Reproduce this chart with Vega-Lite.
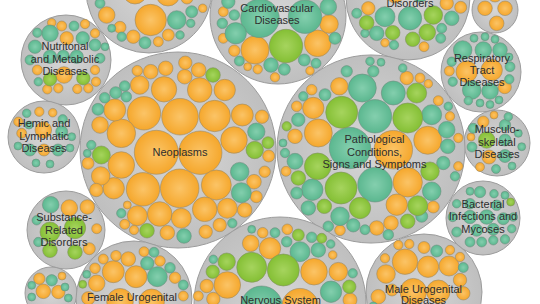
{
"$schema": "https://vega.github.io/schema/vega-lite/v6.json",
"width": 540, "height": 304, "autosize": {"type": "none"}, "padding": 0,
"background": "white",
"config": {"view": {"stroke": null}},
"datasets": {
"parents": [
{"x":149,"y":-10,"r":63},{"x":278,"y":16,"r":68},{"x":408,"y":-2,"r":62},{"x":495,"y":10,"r":23},
{"x":481,"y":72,"r":40},{"x":497,"y":143,"r":33},{"x":483,"y":218,"r":37},{"x":424,"y":292,"r":58},
{"x":371,"y":149,"r":94},{"x":178,"y":150,"r":98},{"x":66,"y":60,"r":45},{"x":44,"y":137,"r":36},
{"x":66,"y":230,"r":39},{"x":51,"y":293,"r":26},{"x":134,"y":299,"r":58},{"x":280,"y":303,"r":86}
],
"kids": [
{"x":135,"y":-8,"r":12,"c":"o"},{"x":168,"y":-6,"r":12,"c":"o"},{"x":150.7,"y":20,"r":15.7,"c":"o"},{"x":106.7,"y":15,"r":8.3,"c":"o"},{"x":120,"y":27.3,"r":6,"c":"o"},{"x":176.7,"y":20,"r":9.3,"c":"t"},{"x":191.7,"y":11.7,"r":6,"c":"t"},{"x":190.7,"y":23.3,"r":4.3,"c":"t"},{"x":202.7,"y":8.3,"r":4.3,"c":"o"},{"x":133.3,"y":36.7,"r":6.7,"c":"o"},{"x":168.3,"y":35,"r":6,"c":"o"},{"x":180,"y":35,"r":4.3,"c":"t"},{"x":158.3,"y":41.7,"r":5,"c":"o"},{"x":145,"y":42.7,"r":6,"c":"t"},{"x":121.7,"y":36.7,"r":4.7,"c":"t"},{"x":111.7,"y":28.3,"r":4,"c":"t"},{"x":100,"y":3.3,"r":5,"c":"t"},{"x":187,"y":-2,"r":6,"c":"o"},

{"x":260,"y":18.3,"r":19.3,"c":"t"},{"x":305,"y":16.7,"r":16.7,"c":"t"},{"x":286,"y":46,"r":16.7,"c":"g"},{"x":255,"y":50,"r":14,"c":"o"},{"x":317.7,"y":43.3,"r":13.3,"c":"o"},{"x":235.7,"y":33.3,"r":10.7,"c":"t"},{"x":329,"y":24,"r":9.3,"c":"o"},{"x":335,"y":38.3,"r":6,"c":"t"},{"x":271,"y":65,"r":7.3,"c":"t"},{"x":284.3,"y":69.3,"r":6,"c":"t"},{"x":304.3,"y":60,"r":6,"c":"t"},{"x":316,"y":63.3,"r":5,"c":"t"},{"x":310,"y":70.7,"r":4.3,"c":"o"},{"x":275,"y":77.3,"r":4.7,"c":"o"},{"x":257.7,"y":69.3,"r":4.7,"c":"o"},{"x":247.7,"y":66.7,"r":4,"c":"o"},{"x":239.3,"y":61,"r":5,"c":"t"},{"x":234.3,"y":50.7,"r":5.7,"c":"o"},{"x":223.3,"y":38.3,"r":5,"c":"o"},{"x":222.3,"y":23.3,"r":5.3,"c":"t"},{"x":223.3,"y":11.7,"r":5,"c":"o"},{"x":234.3,"y":15,"r":5.3,"c":"t"},{"x":228.3,"y":1.7,"r":6.7,"c":"t"},{"x":328.3,"y":6.7,"r":8.3,"c":"t"},

{"x":410,"y":18.3,"r":11.7,"c":"t"},{"x":433.3,"y":15,"r":9.3,"c":"g"},{"x":385,"y":16.7,"r":10,"c":"t"},{"x":366.7,"y":22.7,"r":7.3,"c":"g"},{"x":368.3,"y":8.3,"r":6.7,"c":"o"},{"x":356.7,"y":13.3,"r":5,"c":"t"},{"x":376.7,"y":33.3,"r":7.3,"c":"t"},{"x":392.7,"y":32.7,"r":7.3,"c":"g"},{"x":412.7,"y":39.3,"r":7.3,"c":"g"},{"x":427.3,"y":32.3,"r":8.3,"c":"g"},{"x":440.7,"y":38.3,"r":5,"c":"t"},{"x":441.7,"y":28.3,"r":5,"c":"t"},{"x":451.7,"y":18.3,"r":7.3,"c":"t"},{"x":460.7,"y":7.3,"r":6,"c":"o"},{"x":446.7,"y":3.3,"r":6.7,"c":"o"},{"x":424,"y":46.7,"r":5,"c":"o"},{"x":394,"y":45,"r":4.7,"c":"t"},{"x":385,"y":42.7,"r":4.3,"c":"o"},{"x":365,"y":33.3,"r":4.3,"c":"t"},{"x":420,"y":-8,"r":10,"c":"t"},{"x":395,"y":-6,"r":9,"c":"o"},

{"x":485,"y":8.3,"r":7.3,"c":"o"},{"x":505,"y":8.3,"r":7.3,"c":"o"},{"x":496.7,"y":23.3,"r":7.3,"c":"o"},{"x":495,"y":-5,"r":7,"c":"o"},

{"x":466.7,"y":71.7,"r":10.7,"c":"o"},{"x":491.7,"y":70,"r":10.7,"c":"o"},{"x":462.7,"y":50,"r":9.3,"c":"t"},{"x":483.3,"y":50,"r":8.3,"c":"t"},{"x":500,"y":50,"r":7.3,"c":"t"},{"x":471.7,"y":90,"r":9.3,"c":"t"},{"x":490,"y":91,"r":8.3,"c":"t"},{"x":504.7,"y":87,"r":6.7,"c":"o"},{"x":449.3,"y":71,"r":5,"c":"o"},{"x":451.7,"y":61.7,"r":4.7,"c":"t"},{"x":452.7,"y":81.7,"r":4.7,"c":"t"},{"x":510,"y":66.7,"r":5,"c":"t"},{"x":509.3,"y":79.3,"r":4.7,"c":"t"},{"x":474,"y":38.3,"r":4,"c":"t"},{"x":485,"y":36.7,"r":4,"c":"t"},{"x":495,"y":39.3,"r":4,"c":"t"},{"x":468.3,"y":100.7,"r":4.3,"c":"t"},{"x":480,"y":103,"r":4,"c":"t"},{"x":490,"y":104.5,"r":4,"c":"t"},{"x":499,"y":100,"r":4,"c":"t"},{"x":509,"y":57,"r":4,"c":"t"},

{"x":486.7,"y":140,"r":8.3,"c":"g"},{"x":483.3,"y":121.7,"r":5.7,"c":"o"},{"x":505,"y":125,"r":5.7,"c":"t"},{"x":508.3,"y":116.7,"r":4.3,"c":"t"},{"x":494,"y":115,"r":4,"c":"o"},{"x":473.3,"y":128.3,"r":5,"c":"t"},{"x":518.3,"y":133.3,"r":4,"c":"t"},{"x":521.7,"y":146.7,"r":4,"c":"t"},{"x":489,"y":157,"r":7,"c":"o"},{"x":505,"y":156,"r":6.5,"c":"t"},{"x":472,"y":147,"r":5,"c":"t"},{"x":480,"y":167,"r":4.5,"c":"o"},{"x":496,"y":169,"r":4.5,"c":"t"},{"x":512,"y":166,"r":4,"c":"t"},{"x":505,"y":140,"r":6,"c":"t"},{"x":471,"y":137,"r":4,"c":"o"},

{"x":480,"y":192,"r":5.7,"c":"t"},{"x":470,"y":191.3,"r":4,"c":"t"},{"x":494,"y":193.7,"r":4.3,"c":"t"},{"x":505,"y":195.3,"r":4,"c":"t"},{"x":510.7,"y":202,"r":4,"c":"g"},{"x":456.7,"y":203.7,"r":4.3,"c":"t"},{"x":452.7,"y":217,"r":4.7,"c":"t"},{"x":456.7,"y":232,"r":5,"c":"t"},{"x":470,"y":242,"r":5,"c":"t"},{"x":481.7,"y":242,"r":5,"c":"t"},{"x":493.3,"y":240.3,"r":4.7,"c":"t"},{"x":505,"y":239.3,"r":4.7,"c":"t"},{"x":511.7,"y":228.7,"r":4.3,"c":"t"},{"x":513.3,"y":217,"r":4.3,"c":"t"},{"x":470,"y":217,"r":6.7,"c":"t"},{"x":486.7,"y":217,"r":7.3,"c":"t"},{"x":503.3,"y":218.7,"r":6,"c":"t"},{"x":476.7,"y":230.3,"r":6,"c":"t"},{"x":493.3,"y":229.3,"r":6,"c":"t"},{"x":470,"y":203.7,"r":5.3,"c":"t"},{"x":496.7,"y":205.3,"r":5.3,"c":"t"},

{"x":405,"y":261.7,"r":12.7,"c":"o"},{"x":428,"y":266.7,"r":10.7,"c":"o"},{"x":449,"y":266,"r":10,"c":"o"},{"x":386,"y":274,"r":9.3,"c":"o"},{"x":436.7,"y":251,"r":6,"c":"t"},{"x":424,"y":247.5,"r":6,"c":"o"},{"x":450,"y":250,"r":4.7,"c":"o"},{"x":463.3,"y":267.5,"r":5,"c":"t"},{"x":460,"y":257,"r":4.7,"c":"o"},{"x":398.3,"y":245,"r":4.7,"c":"o"},{"x":409.3,"y":244,"r":4.7,"c":"o"},{"x":385,"y":258.3,"r":4.7,"c":"o"},{"x":413.3,"y":291.7,"r":13.3,"c":"o"},{"x":438.3,"y":291.7,"r":11.7,"c":"o"},{"x":460,"y":280,"r":6.7,"c":"o"},{"x":463.3,"y":293.3,"r":6.7,"c":"o"},{"x":378.3,"y":296.7,"r":7.3,"c":"o"},{"x":373.3,"y":306.7,"r":4.7,"c":"t"},{"x":392,"y":290,"r":6,"c":"o"},

{"x":350,"y":148,"r":20.7,"c":"t"},{"x":393.3,"y":149.7,"r":19.3,"c":"o"},{"x":341.7,"y":112.3,"r":16,"c":"g"},{"x":375,"y":116.3,"r":16.7,"c":"t"},{"x":407.7,"y":118,"r":15,"c":"g"},{"x":362.3,"y":88,"r":14,"c":"t"},{"x":393.3,"y":93,"r":12,"c":"t"},{"x":416.7,"y":93,"r":10,"c":"g"},{"x":318.3,"y":133,"r":14,"c":"o"},{"x":317.7,"y":166.3,"r":13.3,"c":"g"},{"x":341,"y":188,"r":16,"c":"g"},{"x":375,"y":184.7,"r":17.3,"c":"t"},{"x":407.7,"y":182.3,"r":14.7,"c":"o"},{"x":427.7,"y":140.3,"r":14,"c":"o"},{"x":430,"y":171.3,"r":9.3,"c":"g"},{"x":431.7,"y":114.7,"r":10,"c":"t"},{"x":313.3,"y":108,"r":10.7,"c":"o"},{"x":339.3,"y":86.3,"r":8.7,"c":"o"},{"x":312.3,"y":189.7,"r":10.7,"c":"t"},{"x":360,"y":208,"r":10.7,"c":"g"},{"x":396.7,"y":204.7,"r":10.7,"c":"o"},{"x":417.7,"y":205.7,"r":10,"c":"g"},{"x":431.7,"y":191.3,"r":9.3,"c":"t"},{"x":446.7,"y":129.7,"r":8.3,"c":"t"},{"x":447.7,"y":146.3,"r":7.3,"c":"t"},{"x":443.3,"y":163,"r":6.7,"c":"t"},{"x":295,"y":136.3,"r":7.3,"c":"o"},{"x":298.3,"y":119.7,"r":6.7,"c":"t"},{"x":295,"y":161.3,"r":8,"c":"t"},{"x":298.3,"y":178,"r":7.3,"c":"g"},{"x":296.7,"y":193,"r":6,"c":"t"},{"x":308.3,"y":208,"r":7.3,"c":"t"},{"x":324.3,"y":206.3,"r":7.3,"c":"g"},{"x":340,"y":216.3,"r":9.3,"c":"t"},{"x":376.7,"y":228,"r":7.3,"c":"o"},{"x":391,"y":223,"r":7.3,"c":"o"},{"x":407.7,"y":221.3,"r":7.3,"c":"g"},{"x":421.7,"y":216.3,"r":6,"c":"t"},{"x":433.3,"y":207,"r":6,"c":"o"},{"x":328.3,"y":226.3,"r":5.3,"c":"t"},{"x":340,"y":230.3,"r":5.3,"c":"o"},{"x":353.3,"y":225.3,"r":6.7,"c":"t"},{"x":388.3,"y":234.7,"r":5.3,"c":"t"},{"x":365,"y":229.7,"r":5,"c":"t"},{"x":296.7,"y":106.3,"r":5.3,"c":"o"},{"x":303.3,"y":96.3,"r":4.7,"c":"t"},{"x":311.7,"y":89.7,"r":5.3,"c":"o"},{"x":325,"y":94.7,"r":6,"c":"t"},{"x":346.7,"y":71.3,"r":5.7,"c":"t"},{"x":373.3,"y":71.3,"r":5.7,"c":"t"},{"x":370,"y":61.3,"r":4.3,"c":"t"},{"x":381,"y":62.3,"r":4,"c":"t"},{"x":406.7,"y":78,"r":6.7,"c":"o"},{"x":420,"y":78,"r":5,"c":"o"},{"x":402.7,"y":68,"r":4.3,"c":"t"},{"x":428.3,"y":83.7,"r":4.3,"c":"o"},{"x":438.3,"y":100.7,"r":5,"c":"o"},{"x":448.3,"y":106.3,"r":4.3,"c":"t"},{"x":450,"y":116.3,"r":4.7,"c":"o"},{"x":458.3,"y":138,"r":4.7,"c":"o"},{"x":286.7,"y":126.3,"r":4.7,"c":"g"},{"x":285,"y":153,"r":4.7,"c":"t"},{"x":283,"y":143,"r":4,"c":"t"},{"x":286,"y":171.3,"r":5,"c":"o"},{"x":458.3,"y":166.3,"r":4.7,"c":"o"},{"x":455,"y":176.3,"r":4.7,"c":"t"},

{"x":156.3,"y":152.3,"r":22,"c":"o"},{"x":200.3,"y":152.7,"r":21.7,"c":"o"},{"x":144,"y":113.3,"r":16.7,"c":"o"},{"x":180,"y":116.7,"r":18.3,"c":"o"},{"x":214.7,"y":116,"r":15.7,"c":"o"},{"x":143,"y":189.3,"r":16.7,"c":"o"},{"x":179.7,"y":188.3,"r":19.3,"c":"o"},{"x":216.3,"y":185,"r":15,"c":"o"},{"x":121.3,"y":133.3,"r":14.3,"c":"o"},{"x":121.3,"y":165,"r":13.3,"c":"o"},{"x":234,"y":140,"r":13.3,"c":"o"},{"x":242.3,"y":115,"r":11,"c":"o"},{"x":164,"y":89.3,"r":12.7,"c":"o"},{"x":199.7,"y":90,"r":12.3,"c":"o"},{"x":139.7,"y":85,"r":9.3,"c":"o"},{"x":224.7,"y":90,"r":10.7,"c":"o"},{"x":114.7,"y":110,"r":11,"c":"o"},{"x":100,"y":125,"r":8.3,"c":"o"},{"x":159.7,"y":214,"r":12.3,"c":"o"},{"x":181.3,"y":218.3,"r":10,"c":"o"},{"x":204.7,"y":209.3,"r":12.3,"c":"o"},{"x":227.3,"y":208.3,"r":10,"c":"o"},{"x":137.3,"y":215.7,"r":10,"c":"o"},{"x":113.7,"y":188.3,"r":10.7,"c":"o"},{"x":100.7,"y":176,"r":9.3,"c":"o"},{"x":96.3,"y":190,"r":6.7,"c":"o"},{"x":239.7,"y":171.7,"r":9.3,"c":"t"},{"x":241.3,"y":192.7,"r":10,"c":"t"},{"x":254.7,"y":150,"r":8.7,"c":"g"},{"x":256.3,"y":131.7,"r":8.7,"c":"t"},{"x":268,"y":142.7,"r":6,"c":"g"},{"x":268.7,"y":156,"r":6,"c":"o"},{"x":254,"y":181.7,"r":7.3,"c":"o"},{"x":256.3,"y":196.7,"r":6,"c":"o"},{"x":264.7,"y":171.7,"r":5.7,"c":"o"},{"x":244.7,"y":210,"r":7.3,"c":"o"},{"x":262,"y":116.7,"r":6.7,"c":"o"},{"x":101.3,"y":155,"r":9,"c":"g"},{"x":91.3,"y":145,"r":4.7,"c":"t"},{"x":87.3,"y":153.3,"r":4,"c":"t"},{"x":88,"y":163.3,"r":6,"c":"o"},{"x":98,"y":109.3,"r":6,"c":"t"},{"x":104.7,"y":97.7,"r":5.3,"c":"t"},{"x":115.7,"y":92.7,"r":6,"c":"t"},{"x":124.7,"y":86,"r":5.3,"c":"t"},{"x":126.3,"y":96.7,"r":5.3,"c":"t"},{"x":137.3,"y":70.7,"r":5.3,"c":"o"},{"x":150.7,"y":71.7,"r":7.3,"c":"o"},{"x":165.7,"y":68.3,"r":7.3,"c":"o"},{"x":185.3,"y":62.7,"r":6.7,"c":"o"},{"x":198.7,"y":70,"r":7.3,"c":"o"},{"x":184.7,"y":76.7,"r":7.3,"c":"o"},{"x":213,"y":75,"r":7.3,"c":"g"},{"x":184,"y":236,"r":7.3,"c":"t"},{"x":147,"y":230.7,"r":7.3,"c":"g"},{"x":167.3,"y":232.7,"r":7.3,"c":"o"},{"x":205.7,"y":231.7,"r":6.7,"c":"o"},{"x":219.7,"y":225,"r":6.7,"c":"o"},{"x":232.3,"y":223.3,"r":4.7,"c":"t"},{"x":121.3,"y":213.3,"r":4.7,"c":"t"},{"x":124.7,"y":224.3,"r":5,"c":"o"},{"x":134,"y":230,"r":4.7,"c":"o"},{"x":127.3,"y":205,"r":4,"c":"o"},

{"x":251.7,"y":267.3,"r":15,"c":"g"},{"x":283.3,"y":270,"r":16,"c":"g"},{"x":314,"y":271.7,"r":13.3,"c":"o"},{"x":270,"y":248.3,"r":10.7,"c":"o"},{"x":300,"y":251.7,"r":10,"c":"t"},{"x":318.3,"y":250,"r":7.3,"c":"t"},{"x":250.7,"y":243.3,"r":8.3,"c":"o"},{"x":227.3,"y":285,"r":13.3,"c":"o"},{"x":261.7,"y":306.7,"r":20.7,"c":"t"},{"x":300,"y":306.7,"r":18.3,"c":"o"},{"x":331,"y":291.7,"r":10.7,"c":"t"},{"x":338.3,"y":271.7,"r":9.3,"c":"o"},{"x":226.7,"y":261.7,"r":8.7,"c":"g"},{"x":212.7,"y":271.7,"r":6.7,"c":"g"},{"x":206.7,"y":286,"r":6.7,"c":"o"},{"x":213.3,"y":259.3,"r":4.3,"c":"t"},{"x":349.3,"y":286.7,"r":6.7,"c":"g"},{"x":352.7,"y":273.3,"r":4.7,"c":"t"},{"x":332.7,"y":255,"r":4.3,"c":"o"},{"x":321.7,"y":238.3,"r":5,"c":"g"},{"x":330.7,"y":244,"r":4.3,"c":"t"},{"x":311.7,"y":237.3,"r":5.3,"c":"t"},{"x":298.3,"y":235,"r":6,"c":"g"},{"x":286.7,"y":241.7,"r":5.3,"c":"t"},{"x":287.3,"y":229.3,"r":5.3,"c":"o"},{"x":275,"y":232.7,"r":5,"c":"t"},{"x":262.7,"y":232.7,"r":5.3,"c":"o"},{"x":251.7,"y":229.3,"r":4,"c":"t"},{"x":198.3,"y":296,"r":5,"c":"o"},{"x":213.3,"y":299,"r":6.7,"c":"o"},{"x":350,"y":300,"r":7,"c":"o"},

{"x":113.3,"y":271.7,"r":11,"c":"o"},{"x":136,"y":276.7,"r":11,"c":"o"},{"x":157.3,"y":276.7,"r":10,"c":"t"},{"x":96.7,"y":283.3,"r":8.3,"c":"o"},{"x":95,"y":268.3,"r":5.3,"c":"o"},{"x":103.3,"y":259,"r":5,"c":"o"},{"x":116,"y":255.7,"r":5.3,"c":"o"},{"x":128.3,"y":259,"r":7.3,"c":"o"},{"x":144,"y":251.7,"r":5,"c":"o"},{"x":154,"y":252.3,"r":5,"c":"t"},{"x":147.3,"y":263.3,"r":6.7,"c":"t"},{"x":160,"y":261,"r":5.3,"c":"o"},{"x":170,"y":267.7,"r":5.3,"c":"t"},{"x":175,"y":277.7,"r":5.7,"c":"o"},{"x":183.3,"y":285,"r":5,"c":"t"},{"x":82.7,"y":284.3,"r":4,"c":"g"},{"x":86.7,"y":274.3,"r":4,"c":"t"},{"x":183.3,"y":296,"r":5,"c":"o"},{"x":120,"y":301.7,"r":13.3,"c":"o"},{"x":151.7,"y":301.7,"r":12.7,"c":"o"},{"x":88.3,"y":298.3,"r":6.7,"c":"o"},

{"x":50,"y":33.3,"r":8.3,"c":"t"},{"x":66.7,"y":38.3,"r":6.7,"c":"o"},{"x":82.7,"y":38.3,"r":6.7,"c":"t"},{"x":95,"y":45,"r":6,"c":"t"},{"x":61.7,"y":26,"r":5,"c":"o"},{"x":74,"y":26,"r":5,"c":"t"},{"x":85,"y":24,"r":4.7,"c":"o"},{"x":51.7,"y":22.7,"r":4.3,"c":"o"},{"x":37.3,"y":32.7,"r":4.7,"c":"t"},{"x":95,"y":33.3,"r":4.7,"c":"o"},{"x":105,"y":46.7,"r":4,"c":"t"},{"x":35,"y":46.7,"r":6.7,"c":"t"},{"x":50,"y":79.3,"r":6.7,"c":"g"},{"x":64,"y":75,"r":8.3,"c":"o"},{"x":83.3,"y":78.3,"r":6.7,"c":"g"},{"x":37.3,"y":70,"r":5,"c":"o"},{"x":38.3,"y":81.7,"r":4.3,"c":"t"},{"x":47.3,"y":89.3,"r":4.7,"c":"o"},{"x":58.3,"y":88.3,"r":4.7,"c":"o"},{"x":77.3,"y":89,"r":4.7,"c":"o"},{"x":88.3,"y":88.3,"r":4.7,"c":"o"},{"x":96,"y":81.7,"r":4.7,"c":"o"},{"x":95,"y":70,"r":4.7,"c":"o"},{"x":76.7,"y":56.7,"r":6.7,"c":"t"},{"x":50,"y":56.7,"r":6.7,"c":"t"},{"x":100,"y":58.3,"r":5,"c":"t"},{"x":30,"y":60,"r":5,"c":"t"},{"x":63.3,"y":56,"r":6,"c":"t"},

{"x":18.3,"y":121.7,"r":4.7,"c":"o"},{"x":26.7,"y":113.3,"r":4.3,"c":"t"},{"x":39.3,"y":111.7,"r":4.7,"c":"o"},{"x":52.7,"y":112.7,"r":4.3,"c":"o"},{"x":62.7,"y":119.3,"r":4.7,"c":"t"},{"x":21.7,"y":133.3,"r":5,"c":"o"},{"x":43.3,"y":130,"r":8.3,"c":"o"},{"x":61.7,"y":131.7,"r":6,"c":"t"},{"x":71.7,"y":136.7,"r":4,"c":"t"},{"x":30,"y":150,"r":6,"c":"t"},{"x":44,"y":150,"r":6,"c":"o"},{"x":58,"y":150,"r":6,"c":"t"},{"x":18,"y":146,"r":4,"c":"t"},{"x":70,"y":148,"r":4,"c":"t"},{"x":36,"y":163,"r":4,"c":"t"},{"x":50,"y":164,"r":4,"c":"t"},{"x":29,"y":125,"r":4,"c":"t"},

{"x":50.7,"y":204.7,"r":8.3,"c":"t"},{"x":69.3,"y":208,"r":8.3,"c":"o"},{"x":87.3,"y":207,"r":7.3,"c":"o"},{"x":50,"y":232,"r":10,"c":"g"},{"x":75,"y":228,"r":10.7,"c":"g"},{"x":50,"y":250.3,"r":7.3,"c":"g"},{"x":75,"y":252,"r":7.3,"c":"g"},{"x":89.3,"y":248.7,"r":6,"c":"o"},{"x":36.7,"y":220.3,"r":4.7,"c":"t"},{"x":38.3,"y":242,"r":4.7,"c":"t"},{"x":96.7,"y":228.7,"r":5,"c":"o"},

{"x":39.3,"y":278.7,"r":5.7,"c":"o"},{"x":51.7,"y":280.3,"r":5.7,"c":"t"},{"x":65,"y":287,"r":4,"c":"t"},{"x":43.3,"y":291.3,"r":7.3,"c":"o"},{"x":58.3,"y":292,"r":6.7,"c":"o"},{"x":31.7,"y":285.3,"r":4,"c":"t"},{"x":31.7,"y":297,"r":4,"c":"t"},{"x":68.3,"y":298,"r":4,"c":"t"},{"x":62,"y":276,"r":4,"c":"o"}
],
"labels": [
{"x":149,"y":-3,"t":"Diseases"},
{"x":277,"y":8.5,"t":"Cardiovascular"},{"x":277,"y":21,"t":"Diseases"},
{"x":410,"y":3.5,"t":"Disorders"},
{"x":65,"y":47,"t":"Nutritonal"},{"x":65,"y":59.5,"t":"and Metabolic"},{"x":65,"y":72,"t":"Diseases"},
{"x":44,"y":124,"t":"Hemic and"},{"x":44,"y":136.5,"t":"Lymphatic"},{"x":44,"y":148.5,"t":"Diseases"},
{"x":180,"y":153,"t":"Neoplasms"},
{"x":374.5,"y":140,"t":"Pathological"},{"x":374.5,"y":152.5,"t":"Conditions,"},{"x":374.5,"y":165,"t":"Signs and Symptoms"},
{"x":482,"y":58.5,"t":"Respiratory"},{"x":482,"y":71,"t":"Tract"},{"x":482,"y":83,"t":"Diseases"},
{"x":497,"y":130,"t":"Musculo-"},{"x":497,"y":142.5,"t":"skeletal"},{"x":497,"y":155,"t":"Diseases"},
{"x":483,"y":204.5,"t":"Bacterial"},{"x":483,"y":217,"t":"Infections and"},{"x":483,"y":229.5,"t":"Mycoses"},
{"x":64,"y":218,"t":"Substance-"},{"x":64,"y":230.5,"t":"Related"},{"x":64,"y":243,"t":"Disorders"},
{"x":132,"y":297.5,"t":"Female Urogenital"},{"x":132,"y":310,"t":"Diseases"},
{"x":280.5,"y":301,"t":"Nervous System"},
{"x":423.5,"y":289.5,"t":"Male Urogenital"},{"x":423.5,"y":301,"t":"Diseases"}
]
},
"encoding": {
  "x": {"field": "x", "type": "quantitative", "scale": {"domain": [0, 540], "nice": false, "zero": false}, "axis": null},
  "y": {"field": "y", "type": "quantitative", "scale": {"domain": [0, 304], "nice": false, "zero": false, "reverse": true}, "axis": null}
},
"layer": [
{"data": {"name": "parents"},
 "mark": {"type": "circle", "stroke": "#9c9c9c", "strokeWidth": 1, "opacity": 1,
   "fill": {"gradient": "radial", "x1": 0.5, "y1": 0.5, "r1": 0, "x2": 0.5, "y2": 0.5, "r2": 0.5, "stops": [{"offset": 0, "color": "#d6d6d6"}, {"offset": 1, "color": "#bfbfbf"}]}},
 "encoding": {
  "size": {"field": "r", "type": "quantitative", "scale": {"type": "pow", "exponent": 2, "domain": [0, 10], "range": [0, 400]}, "legend": null}
 }},
{"data": {"name": "kids"}, "transform": [{"filter": "datum.c == 'o'"}],
 "mark": {"type": "circle", "stroke": "#9a8a66", "strokeWidth": 0.6, "opacity": 1,
   "fill": {"gradient": "radial", "x1": 0.5, "y1": 0.5, "r1": 0, "x2": 0.5, "y2": 0.5, "r2": 0.5, "stops": [{"offset": 0, "color": "#fbc467"}, {"offset": 1, "color": "#f5a72c"}]}},
 "encoding": {"size": {"field": "r", "type": "quantitative", "legend": null}}},
{"data": {"name": "kids"}, "transform": [{"filter": "datum.c == 't'"}],
 "mark": {"type": "circle", "stroke": "#6f8f80", "strokeWidth": 0.6, "opacity": 1,
   "fill": {"gradient": "radial", "x1": 0.5, "y1": 0.5, "r1": 0, "x2": 0.5, "y2": 0.5, "r2": 0.5, "stops": [{"offset": 0, "color": "#84cfae"}, {"offset": 1, "color": "#5bb78f"}]}},
 "encoding": {"size": {"field": "r", "type": "quantitative", "legend": null}}},
{"data": {"name": "kids"}, "transform": [{"filter": "datum.c == 'g'"}],
 "mark": {"type": "circle", "stroke": "#7f9060", "strokeWidth": 0.6, "opacity": 1,
   "fill": {"gradient": "radial", "x1": 0.5, "y1": 0.5, "r1": 0, "x2": 0.5, "y2": 0.5, "r2": 0.5, "stops": [{"offset": 0, "color": "#a6d45e"}, {"offset": 1, "color": "#84bf34"}]}},
 "encoding": {"size": {"field": "r", "type": "quantitative", "legend": null}}},
{"data": {"name": "labels"},
 "mark": {"type": "text", "font": "Liberation Sans", "fontSize": 11, "fill": "#2e2e2e", "baseline": "middle", "align": "center"},
 "encoding": {
  "text": {"field": "t", "type": "nominal"}
 }}
]
}
